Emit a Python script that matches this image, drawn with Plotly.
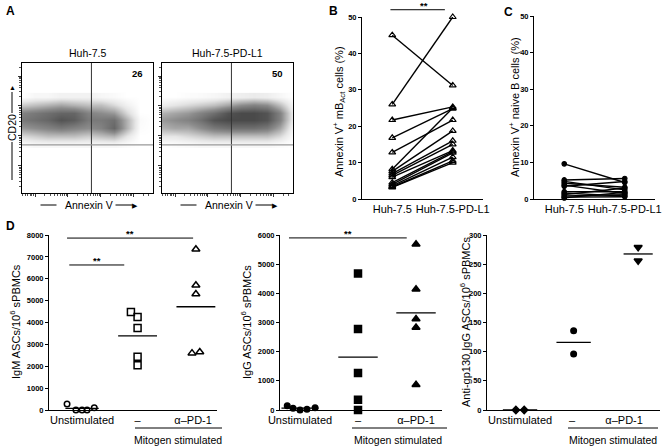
import numpy as np
import plotly.graph_objects as go

W, H = 665, 448
FONT = "Liberation Sans, Arial, Helvetica, sans-serif"


def PX(p):
    return p / W


def PY(p):
    return 1 - p / H


# ---------------- Panel A : flow dot plots (hand-read density grid) ----------------
flow_titles = ["Huh-7.5", "Huh-7.5-PD-L1"]
flow_pct = ["26", "50"]
flow_x = [0, 10, 20, 30, 40, 50, 60, 70, 80, 90, 100]
flow_y = [38, 44, 50, 56, 62, 68, 74]
flow_huh75 = [
    [.02, .05, .05, .05, .05, .05, .05, .05, .02, 0, 0],
    [.20, .25, .30, .30, .30, .25, .30, .35, .15, 0, 0],
    [.45, .50, .55, .60, .55, .50, .55, .70, .35, .02, 0],
    [.60, .65, .70, .80, .75, .60, .60, .65, .35, .03, 0],
    [.55, .60, .65, .70, .70, .55, .50, .45, .20, 0, 0],
    [.25, .30, .35, .40, .35, .30, .30, .20, .08, 0, 0],
    [0, .05, .05, .08, .08, .08, .05, .03, 0, 0, 0],
]
flow_pdl1 = [
    [0, .02, .03, .05, .05, .05, .05, .05, .05, .02, 0],
    [.15, .15, .20, .25, .30, .30, .30, .30, .30, .20, .02],
    [.35, .40, .40, .50, .60, .65, .65, .65, .60, .40, .05],
    [.45, .50, .55, .65, .80, .85, .85, .85, .80, .55, .10],
    [.35, .40, .45, .55, .65, .80, .85, .85, .80, .55, .10],
    [.10, .15, .20, .25, .30, .40, .50, .55, .50, .30, .05],
    [0, 0, .02, .03, .05, .08, .10, .12, .10, .05, 0],
]
flow_gate_x = 53
flow_gate_y = 37

# ---------------- Panel B ----------------
b_categories = ["Huh-7.5", "Huh-7.5-PD-L1"]
b_huh75 = [45, 26, 21.7, 16.8, 12.8, 8.2, 7.6, 7.0, 6.5, 6.0, 4.5, 4.0, 3.6, 3.3, 3.2]
b_pdl1 = [31.2, 50, 25.3, 24.8, 21.7, 25.0, 18.7, 16.0, 15.0, 13.3, 13.0, 12.7, 11.5, 10.5, 10.0]

# ---------------- Panel C ----------------
c_categories = ["Huh-7.5", "Huh-7.5-PD-L1"]
c_huh75 = [9.6, 5.2, 4.8, 4.3, 3.8, 3.5, 2.0, 1.6, 1.2, 0.8, 0.5, 0.3]
c_pdl1 = [4.5, 5.6, 2.5, 3.2, 1.5, 4.8, 2.0, 0.8, 3.0, 1.2, 0.6, 1.8]

# ---------------- Panel D ----------------
d_groups = ["Unstimulated", "\u2013", "\u03b1\u2013PD-1"]
igm_unstim = [270, 0, 0, 0, 100]
igm_mitogen = [4480, 4250, 3750, 2430, 2050]
igm_pd1 = [7350, 5700, 5300, 2600, 2650]
igg_unstim = [150, 60, 0, 30, 80]
igg_mitogen = [4680, 2780, 1270, 350, 0]
igg_pd1 = [5680, 4140, 3120, 2830, 870]
gp_unstim = [0, 0]
gp_mitogen = [136, 96]
gp_pd1 = [279, 256]

# ---------------- geometry (pixels) ----------------
geo = {
    "A1": dict(x=(22, 153), y=(193, 63), xr=(0, 100), yr=(0, 100)),
    "A2": dict(x=(162, 293), y=(193, 63), xr=(0, 100), yr=(0, 100)),
    "B": dict(x=(362, 483), y=(199, 17), xr=(-0.5, 1.5), yr=(0, 50)),
    "C": dict(x=(534, 655), y=(199, 16), xr=(-0.5, 1.5), yr=(0, 50)),
    "D1": dict(x=(49, 217), y=(410, 235), xr=(-0.595, 2.43), yr=(0, 8000)),
    "D2": dict(x=(280, 442), y=(410, 235), xr=(-0.345, 2.448), yr=(0, 6000)),
    "D3": dict(x=(487, 660), y=(410, 235), xr=(-0.635, 2.69), yr=(0, 300)),
}
order = ["A1", "A2", "B", "C", "D1", "D2", "D3"]
axid = {k: ("" if i == 0 else str(i + 1)) for i, k in enumerate(order)}


def dx(panel, v):
    g = geo[panel]
    return PX(g["x"][0] + (v - g["xr"][0]) / (g["xr"][1] - g["xr"][0]) * (g["x"][1] - g["x"][0]))


def dy(panel, v):
    g = geo[panel]
    return PY(g["y"][0] + (v - g["yr"][0]) / (g["yr"][1] - g["yr"][0]) * (g["y"][1] - g["y"][0]))


fig = go.Figure()
layout = dict(
    template="none",
    width=W, height=H, margin=dict(l=0, r=0, t=0, b=0, pad=0), autosize=False,
    paper_bgcolor="white", plot_bgcolor="white",
    font=dict(family=FONT, color="black", size=10),
    showlegend=False,
)
annotations = []
shapes = []


def txt(text, x, y, size=10, angle=0, **kw):
    d = dict(text=text, x=PX(x), y=PY(y), xref="paper", yref="paper", showarrow=False,
             xanchor="center", yanchor="middle",
             textangle=angle, font=dict(size=size, family=FONT, color="black"))
    d.update(kw)
    annotations.append(d)


def seg(x0, y0, x1, y1, color="black", width=1):
    shapes.append(dict(type="line", xref="paper", yref="paper", x0=x0, x1=x1, y0=y0, y1=y1,
                       line=dict(color=color, width=width), layer="above"))


for k in order:
    g = geo[k]
    ax = dict(domain=[PX(g["x"][0]), PX(g["x"][1])], range=list(g["xr"]), automargin=False,
              showgrid=False, zeroline=False, showline=True, linecolor="black",
              linewidth=1, anchor="y" + axid[k], fixedrange=True)
    ay = dict(domain=[PY(g["y"][0]), PY(g["y"][1])], range=list(g["yr"]), automargin=False,
              showgrid=False, zeroline=False, showline=True, linecolor="black",
              linewidth=1, anchor="x" + axid[k], fixedrange=True)
    layout["xaxis" + axid[k]] = ax
    layout["yaxis" + axid[k]] = ay

# ---- Panel A
ymaj = [21, 44, 67, 90]
ymin_t = [d + 23 * np.log10(m) for d in [-2] + ymaj for m in range(2, 10)]
ymin_t = [v for v in ymin_t if 0 < v < 100]
xmaj = [10, 35, 60, 85]
xmin_t = [d + 25 * np.log10(m) for d in [-15] + xmaj for m in range(2, 10)]
xmin_t = [v for v in xmin_t if 0 < v < 100]
for i, (k, z) in enumerate(zip(["A1", "A2"], [flow_huh75, flow_pdl1])):
    fig.add_trace(go.Heatmap(
        x=flow_x, y=flow_y, z=z, zmin=0, zmax=1, zsmooth="best", showscale=False,
        colorscale=[[0, "#ffffff"], [0.15, "#e6e6e6"], [0.5, "#8c8c8c"], [1, "#2e2e2e"]],
        xaxis="x" + axid[k], yaxis="y" + axid[k], hoverinfo="skip"))
    layout["xaxis" + axid[k]].update(mirror=True, showticklabels=False, ticks="outside",
                                    tickvals=xmaj, ticklen=3, tickcolor="#333",
                                    minor=dict(tickvals=xmin_t, ticks="outside", ticklen=2, tickcolor="#555"))
    layout["yaxis" + axid[k]].update(mirror=True, showticklabels=False, ticks="outside",
                                    tickvals=ymaj, ticklen=3, tickcolor="#333",
                                    minor=dict(tickvals=ymin_t, ticks="outside", ticklen=2, tickcolor="#555"))
    # gates
    seg(dx(k, flow_gate_x), dy(k, 0), dx(k, flow_gate_x), dy(k, 100), "#333", 1)
    seg(dx(k, 0), dy(k, flow_gate_y), dx(k, 100), dy(k, flow_gate_y), "#999", 1.3)
    cx = (geo[k]["x"][0] + geo[k]["x"][1]) / 2
    txt(flow_titles[i], cx, 53, 10.5)
    txt("<b>" + flow_pct[i] + "</b>", geo[k]["x"][1] - 16, 74, 9.5)
    # Annexin V label with lines/arrow
    txt("Annexin V", cx + 1, 205, 10.5)
    seg(PX(cx - 47), PY(205), PX(cx - 31), PY(205))
    seg(PX(cx + 28), PY(205), PX(cx + 45), PY(205))
    txt("\u25b6", cx + 47, 205, 7)

# CD20 label
txt("CD20", 12, 128, 10.5, -90)
seg(PX(12), PY(142), PX(12), PY(180))
seg(PX(12), PY(92), PX(12), PY(113))
txt("\u25b2", 12, 88, 7)

# ---- Panel B & C
def paired(k, left, right, symbol, size, lw):
    xs, ys = [], []
    for a, b in zip(left, right):
        xs += [0, 1, None]
        ys += [a, b, None]
    fig.add_trace(go.Scatter(x=xs, y=ys, mode="lines+markers", cliponaxis=False,
                             line=dict(color="black", width=lw),
                             marker=dict(symbol=symbol, size=size, color="black",
                                         line=dict(color="black", width=1.2)),
                             xaxis="x" + axid[k], yaxis="y" + axid[k], hoverinfo="skip"))


paired("B", b_huh75, b_pdl1, "triangle-up-open", 6, 1.4)
paired("C", c_huh75, c_pdl1, "circle", 4.5, 1.4)
for k, cats in [("B", b_categories), ("C", c_categories)]:
    layout["xaxis" + axid[k]].update(tickvals=[0, 1], ticktext=cats, ticks="", tickfont=dict(size=11))
    layout["yaxis" + axid[k]].update(tickvals=[0, 10, 20, 30, 40, 50], ticks="outside", ticklen=3,
                                    tickcolor="black", tickfont=dict(size=7.5, weight="bold"))

txt("Annexin V<sup>+</sup> mB<sub>Act</sub> cells (%)", 339, 112, 11, -90)
txt("Annexin V<sup>+</sup> naive B cells (%)", 514, 107, 11, -90)

# significance bars
sig = [("B", -0.03, 0.87, 52), ("D1", -0.27, 2.0, 7860), ("D1", -0.23, 0.76, 6630), ("D2", -0.19, 1.84, 5900)]
for k, xa, xb, yv in sig:
    seg(dx(k, xa), dy(k, yv), dx(k, xb), dy(k, yv))
    annotations.append(dict(text="<b>**</b>", x=(dx(k, xa) + dx(k, xb)) / 2 + (0.01 if k == "B" else 0),
                            y=dy(k, yv), xref="paper", yref="paper", showarrow=False,
                            xanchor="center", yanchor="bottom", yshift=-3, font=dict(size=9.5, family=FONT)))

# ---- Panel D
d_sets = [
    ("D1", [igm_unstim, igm_mitogen, igm_pd1], ["circle-open", "square-open", "triangle-up-open"],
     [0, 1, 2.05], [[-0.27, -0.11, 0, 0.09, 0.22], [-0.12, 0, 0, 0, 0], [0, 0, 0, -0.07, 0.07]],
     [0.3, 0.35, 0.35], [1000 * i for i in range(9)], "IgM ASCs/10<sup>6</sup> sPBMCs", 15),
    ("D2", [igg_unstim, igg_mitogen, igg_pd1], ["circle", "square", "triangle-up"],
     [0, 1, 2.0], [[-0.22, -0.12, 0, 0.12, 0.26], [0, 0, 0, 0, 0], [0, 0, 0, 0, 0]],
     [0.32, 0.34, 0.34], [1000 * i for i in range(7)], "IgG ASCs/10<sup>6</sup> sPBMCs", 246),
    ("D3", [gp_unstim, gp_mitogen, gp_pd1], ["diamond", "circle", "triangle-down"],
     [0, 1.03, 2.27], [[-0.08, 0.08], [0, 0], [0, 0]],
     [0.33, 0.33, 0.28], [50 * i for i in range(7)], "Anti-gp130 IgG ASCs/10<sup>6</sup> sPBMCs", 465),
]
for k, groups, symbols, gpos, jit, halfw, yt, ylab, ylx in d_sets:
    for vals, sym, gp, jj, hw in zip(groups, symbols, gpos, jit, halfw):
        m = float(np.mean(vals))
        fig.add_trace(go.Scatter(x=[gp - hw, gp + hw], y=[m, m], mode="lines",
                                 line=dict(color="black", width=1.3),
                                 xaxis="x" + axid[k], yaxis="y" + axid[k], hoverinfo="skip"))
        sz = 7 if "square" in sym or "triangle" in sym else 5.5
        fig.add_trace(go.Scatter(x=[gp + j for j in jj], y=vals, mode="markers", cliponaxis=False,
                                 marker=dict(symbol=sym, size=sz, color="black",
                                             line=dict(color="black", width=1.5)),
                                 xaxis="x" + axid[k], yaxis="y" + axid[k], hoverinfo="skip"))
    layout["xaxis" + axid[k]].update(tickvals=[0, 1, 2], ticktext=d_groups, ticks="", tickfont=dict(size=11))
    layout["yaxis" + axid[k]].update(tickvals=yt, ticks="outside", ticklen=3, tickcolor="black",
                                    tickfont=dict(size=7.5, weight="bold"))
    txt(ylab, ylx, 322, 11, -90)

# Mitogen stimulated brackets
for x0, x1, xc in [(135, 222, 178), (352, 447, 398), (568, 658, 613)]:
    seg(PX(x0), PY(428), PX(x1), PY(428))
    txt("Mitogen stimulated", xc, 440, 10.5)

# panel letters
for t, x, y in [("A", 11, 11), ("B", 333, 11), ("C", 508, 12), ("D", 11, 226)]:
    txt("<b>" + t + "</b>", x, y, 12)

layout["annotations"] = annotations
layout["shapes"] = shapes
fig.update_layout(**layout)
fig.write_html("out.html", config={"displayModeBar": False},
               post_script="document.body.style.margin='0';document.body.style.overflow='hidden';")
